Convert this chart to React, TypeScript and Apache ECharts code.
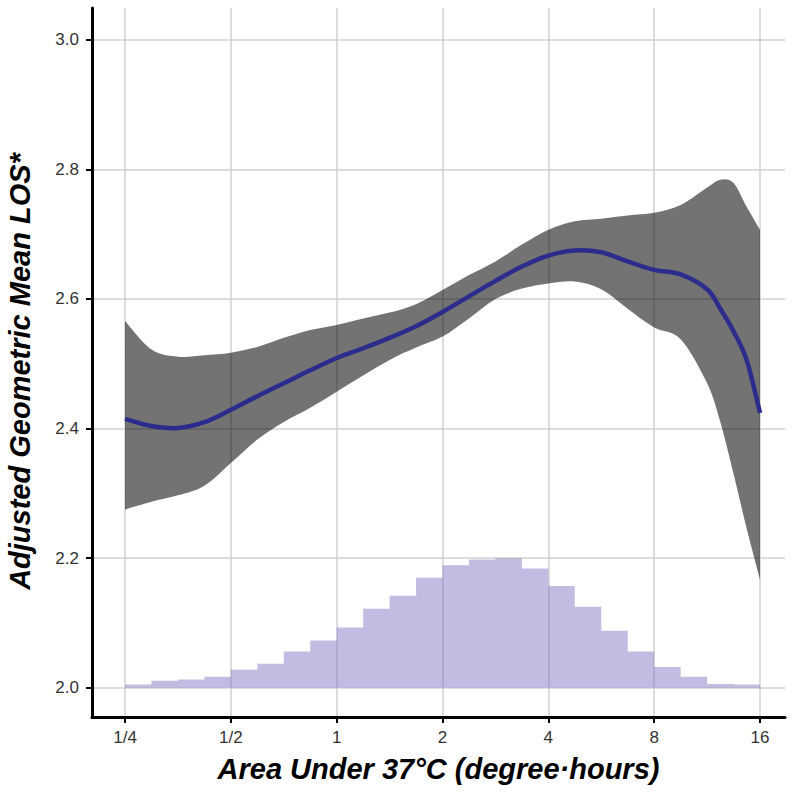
import React, { useEffect, useRef } from "react";
import * as echarts from "echarts";

// x positions are log2(degree-hours)
const X_LOG2 = [-2, -1.75, -1.5, -1.25, -1, -0.75, -0.5, -0.25, 0, 0.25, 0.5, 0.75, 1, 1.25, 1.5, 1.75, 2, 2.25, 2.5, 2.75, 3, 3.25, 3.5, 3.625, 3.75, 3.875, 4];
const MEAN = [2.415, 2.404, 2.401, 2.41, 2.429, 2.45, 2.47, 2.49, 2.509, 2.524, 2.54, 2.558, 2.58, 2.604, 2.628, 2.65, 2.667, 2.675, 2.672, 2.658, 2.645, 2.638, 2.615, 2.585, 2.55, 2.505, 2.424];
const UPPER = [2.566, 2.522, 2.511, 2.513, 2.517, 2.526, 2.54, 2.552, 2.56, 2.57, 2.579, 2.592, 2.614, 2.637, 2.658, 2.684, 2.707, 2.72, 2.724, 2.729, 2.733, 2.745, 2.772, 2.784, 2.779, 2.742, 2.707];
const LOWER = [2.275, 2.287, 2.297, 2.312, 2.347, 2.383, 2.41, 2.432, 2.457, 2.482, 2.506, 2.525, 2.542, 2.57, 2.6, 2.616, 2.624, 2.627, 2.615, 2.585, 2.556, 2.538, 2.47, 2.41, 2.33, 2.245, 2.167];

// histogram bins (log2 edges) and their top values on the y scale
const HIST_EDGES = [-2, -1.75, -1.5, -1.25, -1, -0.75, -0.5, -0.25, 0, 0.25, 0.5, 0.75, 1, 1.25, 1.5, 1.75, 2, 2.25, 2.5, 2.75, 3, 3.25, 3.5, 3.75, 4];
const HIST_TOPS = [2.005, 2.011, 2.013, 2.017, 2.028, 2.037, 2.056, 2.073, 2.093, 2.122, 2.142, 2.17, 2.189, 2.198, 2.2, 2.184, 2.157, 2.125, 2.088, 2.056, 2.032, 2.017, 2.006, 2.005];
const HIST_BASE = 2.0;

const X_TICKS = [-2, -1, 0, 1, 2, 3, 4];
const X_TICK_LABELS = ["1/4", "1/2", "1", "2", "4", "8", "16"];
const Y_TICKS = [2.0, 2.2, 2.4, 2.6, 2.8, 3.0];

const X_TITLE = "Area Under 37\u00B0C (degree\u00B7hours)";
const Y_TITLE = "Adjusted Geometric Mean LOS*";

// Catmull-Rom spline through screen points, emitted as cubic Bezier path commands
function splinePath(pts: number[][], start: "M" | "L"): string {
  let d = `${start}${pts[0][0]},${pts[0][1]}`;
  for (let i = 0; i < pts.length - 1; i++) {
    const p0 = pts[i - 1] || pts[i];
    const p1 = pts[i];
    const p2 = pts[i + 1];
    const p3 = pts[i + 2] || p2;
    const c1x = p1[0] + (p2[0] - p0[0]) / 6;
    const c1y = p1[1] + (p2[1] - p0[1]) / 6;
    const c2x = p2[0] - (p3[0] - p1[0]) / 6;
    const c2y = p2[1] - (p3[1] - p1[1]) / 6;
    d += ` C${c1x},${c1y} ${c2x},${c2y} ${p2[0]},${p2[1]}`;
  }
  return d;
}

export default function App() {
  const ref = useRef<HTMLDivElement>(null);
  useEffect(() => {
    if (!ref.current) return;
    const chart = echarts.init(ref.current, null, { renderer: "svg" });
    const titleFont = {
      fontFamily: "'Liberation Sans', Arial, Helvetica, sans-serif",
      fontWeight: "bold" as const,
      fontStyle: "italic" as const,
      fontSize: 29,
      color: "#000",
    };
    const labelFont = {
      color: "#333",
      fontSize: 17,
      fontFamily: "'Liberation Sans', Arial, Helvetica, sans-serif",
    };
    const histData = HIST_TOPS.map((v, i) => [HIST_EDGES[i], HIST_EDGES[i + 1], v]);
    const bandData = X_LOG2.map((x, i) => [x, LOWER[i], UPPER[i]]);
    const meanData = X_LOG2.map((x, i) => [x, MEAN[i]]);
    const option: any = {
      animation: false,
      backgroundColor: "#fff",
      grid: { left: 92, right: 15, top: 8, bottom: 81, containLabel: false, outerBoundsMode: "none" },
      xAxis: {
        type: "value",
        min: -2.312,
        max: 4.236,
        name: X_TITLE,
        nameLocation: "middle",
        nameGap: 37,
        nameTextStyle: titleFont,
        axisLine: { show: true, onZero: false, lineStyle: { color: "#000", width: 3 } },
        axisTick: { show: true, customValues: X_TICKS, length: 6, lineStyle: { color: "#000", width: 2 } },
        axisLabel: {
          customValues: X_TICKS,
          formatter: (v: number) => {
            const i = X_TICKS.indexOf(Math.round(v));
            return i >= 0 ? X_TICK_LABELS[i] : "";
          },
          ...labelFont,
          margin: 12,
        },
        splitLine: { show: true, lineStyle: { color: "#d0d0d0", width: 1.5 } },
      },
      yAxis: {
        type: "value",
        min: 1.955,
        max: 3.049,
        name: Y_TITLE,
        nameLocation: "middle",
        nameGap: 58,
        nameTextStyle: { ...titleFont, padding: [0, 18, 0, 0] },
        axisLine: { show: true, onZero: false, lineStyle: { color: "#000", width: 3 } },
        axisTick: { show: true, customValues: Y_TICKS, length: 6, lineStyle: { color: "#000", width: 2 } },
        axisLabel: {
          customValues: Y_TICKS,
          formatter: (v: number) => v.toFixed(1),
          ...labelFont,
          margin: 13,
        },
        splitLine: { show: true, lineStyle: { color: "#d0d0d0", width: 1.5 } },
      },
      series: [
        {
          type: "custom",
          name: "hist",
          data: histData,
          encode: { x: [0, 1], y: 2 },
          z: 2,
          renderItem: (params: any, api: any) => {
            if (params.dataIndex !== 0) return null;
            const start = api.coord([HIST_EDGES[0], HIST_BASE]);
            let d = `M${start[0]},${start[1]}`;
            HIST_TOPS.forEach((v, i) => {
              const a = api.coord([HIST_EDGES[i], v]);
              const b = api.coord([HIST_EDGES[i + 1], v]);
              d += ` L${a[0]},${a[1]} L${b[0]},${b[1]}`;
            });
            const end = api.coord([HIST_EDGES[HIST_EDGES.length - 1], HIST_BASE]);
            d += ` L${end[0]},${end[1]} Z`;
            return {
              type: "path",
              shape: { pathData: d },
              style: { fill: "rgba(118,108,190,0.45)" },
            };
          },
        },
        {
          type: "custom",
          name: "band",
          data: bandData,
          encode: { x: 0, y: [1, 2] },
          z: 3,
          renderItem: (params: any, api: any) => {
            if (params.dataIndex !== 0) return null;
            const up = X_LOG2.map((x, i) => api.coord([x, UPPER[i]]));
            const lo = X_LOG2.map((x, i) => api.coord([x, LOWER[i]])).reverse();
            const d = splinePath(up, "M") + " " + splinePath(lo, "L") + " Z";
            return {
              type: "path",
              shape: { pathData: d },
              style: { fill: "rgba(0,0,0,0.55)" },
            };
          },
        },
        {
          type: "custom",
          name: "mean",
          data: meanData,
          encode: { x: 0, y: 1 },
          z: 4,
          renderItem: (params: any, api: any) => {
            if (params.dataIndex !== 0) return null;
            const pts = X_LOG2.map((x, i) => api.coord([x, MEAN[i]]));
            return {
              type: "path",
              shape: { pathData: splinePath(pts, "M") },
              style: { fill: "none", stroke: "#2b2c8c", lineWidth: 4.5, lineCap: "butt", lineJoin: "round" },
            };
          },
        },
      ],
    };
    chart.setOption(option);
    return () => chart.dispose();
  }, []);
  return <div ref={ref} style={{ width: 800, height: 798, position: "absolute", left: 0, top: 0 }} />;
}
